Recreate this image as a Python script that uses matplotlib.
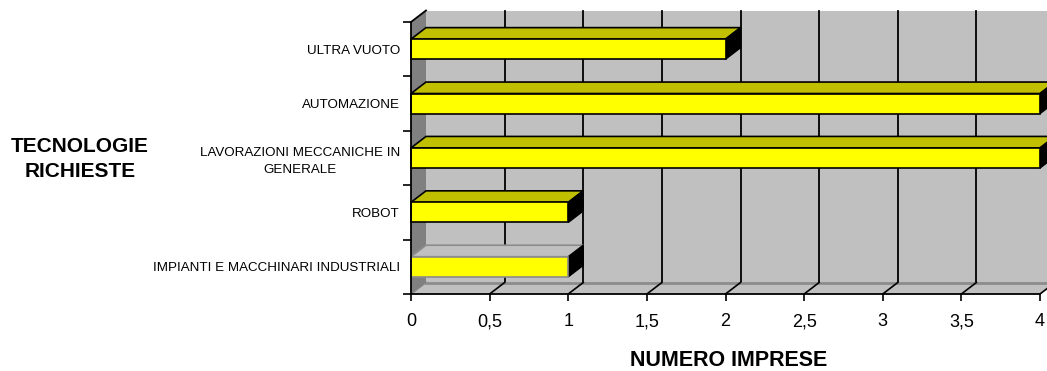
import numpy as np
import matplotlib
matplotlib.use("Agg")
from matplotlib import pyplot as plt
from matplotlib.patches import Polygon

plt.rcParams['font.family'] = ['Liberation Sans', 'DejaVu Sans']

# categories from bottom to top
categories = ['IMPIANTI E MACCHINARI INDUSTRIALI', 'ROBOT',
              'LAVORAZIONI MECCANICHE IN\nGENERALE', 'AUTOMAZIONE', 'ULTRA VUOTO']
values = [1, 1, 4, 4, 2]
x_ticks = [0, 0.5, 1, 1.5, 2, 2.5, 3, 3.5, 4]
x_labels = ['0', '0,5', '1', '1,5', '2', '2,5', '3', '3,5', '4']

W, H = 1047, 371
fig = plt.figure(figsize=(W / 100, H / 100), dpi=100)
fig.patch.set_facecolor('white')

# front plane of the 3d box
left, right, top, bottom = 411, 1040, 22, 294
ax = fig.add_axes([left / W, (H - bottom) / H, (right - left) / W, (bottom - top) / H])
ax.set_xlim(0, 4)
ax.set_ylim(-0.5, len(categories) - 0.5)
ax.patch.set_visible(False)
for s in ax.spines.values():
    s.set_visible(False)

# depth offset in data units (about 15 px right, 11.5 px up)
dx = 15 / ((right - left) / 4)
dy = 11.5 / ((bottom - top) / len(categories))
y0, y1 = -0.5, len(categories) - 0.5

wall = '#C0C0C0'
side_wall = '#808080'

def poly(pts, **kw):
    p = Polygon(pts, closed=True, clip_on=False, **kw)
    ax.add_patch(p)
    return p

# back wall + gridlines
poly([(dx, y0 + dy), (4 + dx, y0 + dy), (4 + dx, y1 + dy), (dx, y1 + dy)],
     facecolor=wall, edgecolor='none', zorder=1)
for xv in x_ticks[1:]:
    ax.plot([xv + dx, xv + dx], [y0 + dy, y1 + dy], color='black', lw=1.3,
            clip_on=False, zorder=2)

# floor
poly([(0, y0), (4, y0), (4 + dx, y0 + dy), (dx, y0 + dy)],
     facecolor=wall, edgecolor='none', zorder=3)
ax.plot([dx, 4 + dx], [y0 + dy, y0 + dy], color='#8C8C8C', lw=2, clip_on=False, zorder=3)
ax.plot([0, dx], [y0, y0 + dy], color='#8C8C8C', lw=1.2, clip_on=False, zorder=3)
for xv in x_ticks[1:]:
    ax.plot([xv, xv + dx], [y0, y0 + dy], color='black', lw=1.2, clip_on=False, zorder=3)

# left side wall
poly([(0, y0), (dx, y0 + dy), (dx, y1 + dy), (0, y1)],
     facecolor=side_wall, edgecolor='none', zorder=3)
ax.plot([0, dx], [y1, y1 + dy], color='black', lw=1.3, clip_on=False, zorder=4)
ax.plot([0, 0], [y0, y1], color='black', lw=1.3, clip_on=False, zorder=6)
ax.plot([0, 4], [y0, y0], color='black', lw=1.3, clip_on=False, zorder=6)

# 3d bars
h = 0.37
for i, v in enumerate(values):
    b, t = i - h / 2, i + h / 2
    first = i == 0
    ec = '#8C8C8C' if first else 'black'
    top_fc = wall if first else '#C0C000'
    poly([(0, t), (v, t), (v + dx, t + dy), (dx, t + dy)],
         facecolor=top_fc, edgecolor=ec, lw=1.2, zorder=5)
    poly([(v, b), (v + dx, b + dy), (v + dx, t + dy), (v, t)],
         facecolor='black', edgecolor='black', lw=1.0, zorder=5)
    poly([(0, b), (v, b), (v, t), (0, t)],
         facecolor='#FFFF00', edgecolor=ec, lw=1.2, zorder=5)

# axes ticks and labels
ax.set_xticks(x_ticks)
ax.set_xticklabels(x_labels, fontsize=13)
ax.tick_params(axis='x', direction='out', length=5, width=1.2, pad=9)

ax.set_yticks(range(len(categories)))
ax.set_yticklabels(categories, fontsize=9.6, multialignment='center', linespacing=1.45)
ax.set_yticks(np.arange(y0, y1 + 0.1, 1), minor=True)
ax.tick_params(axis='y', which='major', length=0, pad=8)
ax.tick_params(axis='y', which='minor', direction='out', length=6, width=1.2)

fig.text(80 / W, 1 - 159 / H, 'TECNOLOGIE\nRICHIESTE', ha='center', va='center',
         fontsize=15, fontweight='bold', linespacing=1.35)
fig.text(729 / W, 1 - 360 / H, 'NUMERO IMPRESE', ha='center', va='center',
         fontsize=15.5, fontweight='bold')

fig.savefig('out.png', dpi=100)
